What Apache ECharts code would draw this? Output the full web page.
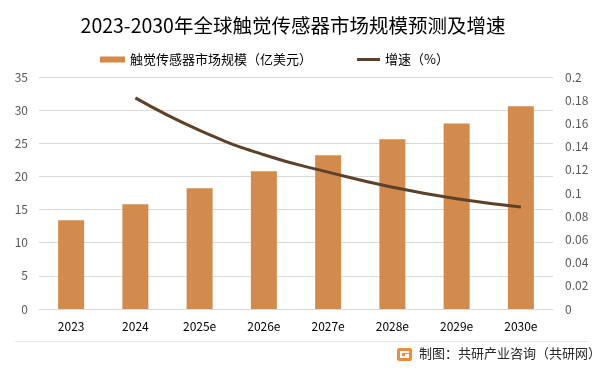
<!DOCTYPE html>
<html>
<head>
<meta charset="utf-8">
<script src="https://cdn.jsdelivr.net/npm/echarts@6/dist/echarts.min.js"></script>
<style>html,body{margin:0;padding:0;background:#fff}#c{width:601px;height:372px}</style>
</head>
<body>
<div id="c"></div>
<script>
const categories = ['2023', '2024', '2025e', '2026e', '2027e', '2028e', '2029e', '2030e'];
const marketSize = [13.4, 15.8, 18.2, 20.8, 23.2, 25.6, 28.0, 30.6];
const growth = [null, 0.182, 0.154, 0.133, 0.118, 0.105, 0.095, 0.088];
const leftTicks = [0, 35, 5];
const rightTicks = [0, 0.2, 0.02];
const titleText = '2023-2030年全球触觉传感器市场规模预测及增速';
const barName = '触觉传感器市场规模（亿美元）';
const lineName = '增速（%）';
const sourceText = '制图：共研产业咨询（共研网）';

const FONT = '"Noto Sans CJK SC", "Noto Sans", sans-serif';
const chart = echarts.init(document.getElementById('c'), null, {renderer: 'canvas'});
chart.setOption({
  animation: false,
  backgroundColor: '#fff',
  textStyle: {fontFamily: FONT},
  title: {
    text: titleText, left: 288, textAlign: 'center', top: 11,
    textStyle: {fontSize: 19.5, fontWeight: 'normal', color: '#000', fontFamily: FONT}
  },
  legend: [
    {data: [barName], left: 95, top: 48, itemWidth: 25, itemHeight: 6, itemGap: 3,
     icon: 'rect', textStyle: {fontSize: 13, color: '#000', fontFamily: FONT}},
    {data: [lineName], left: 352, top: 48, itemWidth: 23, itemHeight: 3,
     icon: 'rect', textStyle: {fontSize: 13, color: '#000', fontFamily: FONT}}
  ],
  grid: {left: 39, right: 48, top: 77, bottom: 63},
  xAxis: {
    type: 'category', data: categories,
    axisLine: {lineStyle: {color: '#d9d9d9'}}, axisTick: {show: false},
    axisLabel: {color: '#000', fontSize: 12, margin: 11, fontFamily: FONT}
  },
  yAxis: [
    {type: 'value', min: leftTicks[0], max: leftTicks[1], interval: leftTicks[2],
     axisLine: {show: false}, axisTick: {show: false},
     axisLabel: {color: '#595959', fontSize: 12, margin: 11, fontFamily: FONT},
     splitLine: {lineStyle: {color: '#d9d9d9'}}},
    {type: 'value', min: rightTicks[0], max: rightTicks[1], interval: rightTicks[2],
     axisLine: {show: false}, axisTick: {show: false},
     axisLabel: {color: '#595959', fontSize: 12, margin: 12, fontFamily: FONT},
     splitLine: {show: false}}
  ],
  series: [
    {name: barName, type: 'bar', data: marketSize, barWidth: 26, yAxisIndex: 0,
     itemStyle: {color: '#D38B4D'}},
    {name: lineName, type: 'line', data: growth, yAxisIndex: 1, smooth: true,
     showSymbol: false, symbol: 'none', connectNulls: false,
     lineStyle: {color: '#5E4129', width: 3}, itemStyle: {color: '#5E4129'}}
  ],
  graphic: [
    {type: 'line', shape: {x1: 15, y1: 341.5, x2: 588, y2: 341.5},
     style: {stroke: '#e6e6e6', lineWidth: 1}},
    {type: 'group', left: 397, top: 348, children: [
      {type: 'rect', shape: {x: 0, y: 0, width: 15, height: 13, r: 2},
       style: {fill: '#F08A3C'}},
      {type: 'rect', shape: {x: 3, y: 3, width: 9, height: 2}, style: {fill: '#fff'}},
      {type: 'rect', shape: {x: 3, y: 3, width: 2, height: 7}, style: {fill: '#fff'}},
      {type: 'rect', shape: {x: 3, y: 8, width: 9, height: 2}, style: {fill: '#fff'}},
      {type: 'rect', shape: {x: 8, y: 6, width: 4, height: 2}, style: {fill: '#fff'}}
    ]},
    {type: 'text', left: 419, top: 347,
     style: {text: sourceText, fontSize: 13, fill: '#262626', fontFamily: FONT}}
  ]
});
</script>
</body>
</html>
